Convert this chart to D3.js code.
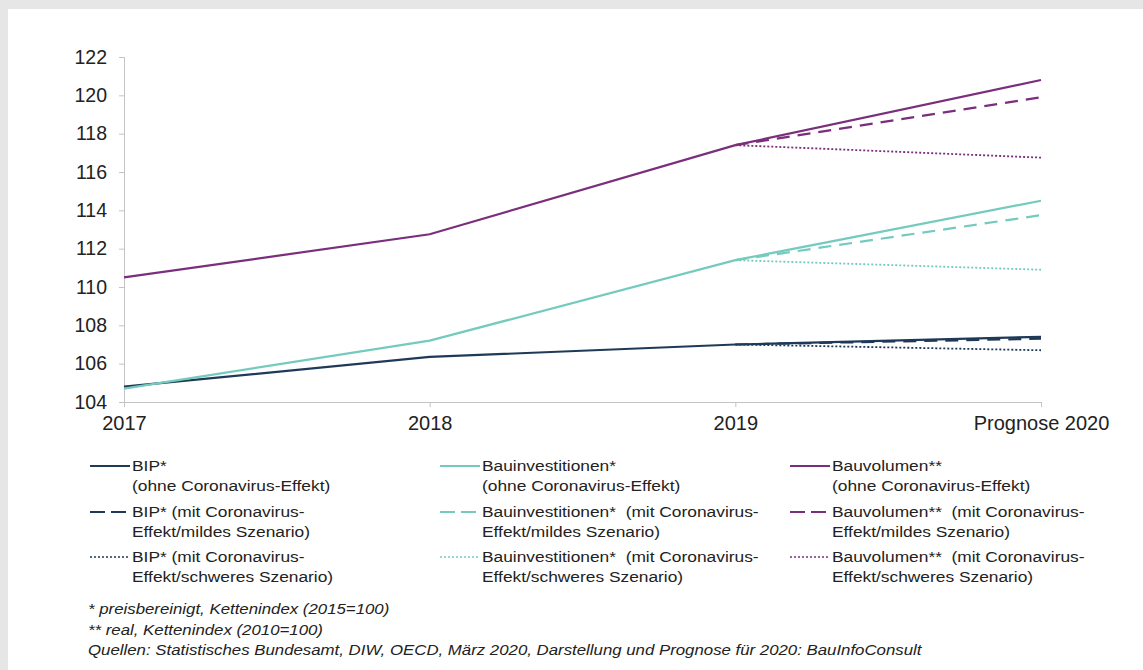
<!DOCTYPE html>
<html>
<head>
<meta charset="utf-8">
<script src="https://cdn.jsdelivr.net/npm/d3@7"></script>
<style>
  body { margin: 0; background: #e6e6e6; font-family: "Liberation Sans", Arial, sans-serif; }
  svg { display: block; }
  .legend text { white-space: pre; }
</style>
</head>
<body>
<div id="graph"></div>
<script>
// ------- data --------
var years = ['2017', '2018', '2019', 'Prognose 2020']
var yTicks = [104, 106, 108, 110, 112, 114, 116, 118, 120, 122]

var bip = [104.8, 106.35, 107.0, 107.4]
var bipMild = [null, null, 107.0, 107.3]
var bipSchwer = [null, null, 107.0, 106.7]

var bauinv = [104.7, 107.2, 111.4, 114.5]
var bauinvMild = [null, null, 111.4, 113.75]
var bauinvSchwer = [null, null, 111.4, 110.9]

var bauvol = [110.5, 112.75, 117.4, 120.8]
var bauvolMild = [null, null, 117.4, 119.9]
var bauvolSchwer = [null, null, 117.4, 116.75]

var legendLabels = [
    ['BIP*', '(ohne Coronavirus-Effekt)'],
    ['BIP* (mit Coronavirus-', 'Effekt/mildes Szenario)'],
    ['BIP* (mit Coronavirus-', 'Effekt/schweres Szenario)'],
    ['Bauinvestitionen*', '(ohne Coronavirus-Effekt)'],
    ['Bauinvestitionen*  (mit Coronavirus-', 'Effekt/mildes Szenario)'],
    ['Bauinvestitionen*  (mit Coronavirus-', 'Effekt/schweres Szenario)'],
    ['Bauvolumen**', '(ohne Coronavirus-Effekt)'],
    ['Bauvolumen**  (mit Coronavirus-', 'Effekt/mildes Szenario)'],
    ['Bauvolumen**  (mit Coronavirus-', 'Effekt/schweres Szenario)']
]

var footnotes = [
    '* preisbereinigt, Kettenindex (2015=100)',
    '** real, Kettenindex (2010=100)',
    'Quellen: Statistisches Bundesamt, DIW, OECD, März 2020, Darstellung und Prognose für 2020: BauInfoConsult'
]

var colors = {bip: '#1e3a58', inv: '#74cbbd', vol: '#7a2e7c'}
var dashes = {solid: null, mild: '13,8', schwer: '2,2'}

var series = [
    {values: bip, color: colors.bip, dash: 'solid'},
    {values: bipMild, color: colors.bip, dash: 'mild'},
    {values: bipSchwer, color: colors.bip, dash: 'schwer'},
    {values: bauinv, color: colors.inv, dash: 'solid'},
    {values: bauinvMild, color: colors.inv, dash: 'mild'},
    {values: bauinvSchwer, color: colors.inv, dash: 'schwer'},
    {values: bauvol, color: colors.vol, dash: 'solid'},
    {values: bauvolMild, color: colors.vol, dash: 'mild'},
    {values: bauvolSchwer, color: colors.vol, dash: 'schwer'}
]

// ------- svg --------
var width = 1143, height = 670

var svg = d3.select('#graph').append('svg')
    .attr('width', width)
    .attr('height', height)

// white panel
svg.append('rect')
    .attr('x', 8).attr('y', 9)
    .attr('width', width - 8).attr('height', height - 9)
    .style('fill', '#ffffff')

var x = d3.scalePoint()
    .domain(years)
    .range([124, 1041])

var y = d3.scaleLinear()
    .domain([104, 122])
    .range([402, 57])

var axisColor = '#c4c4c4'

// y axis
var yAxis = svg.append('g')
    .attr('transform', 'translate(124,0)')
    .call(d3.axisLeft(y).tickValues(yTicks).tickSize(5).tickPadding(12))
yAxis.select('.domain').style('stroke', axisColor)
yAxis.selectAll('.tick line').style('stroke', axisColor)
yAxis.selectAll('text')
    .style('font-family', '"Liberation Sans", Arial, sans-serif')
    .style('font-size', '19.5px')
    .style('fill', '#222')

// x axis
var xAxis = svg.append('g')
    .attr('transform', 'translate(0,402)')
    .call(d3.axisBottom(x).tickSize(5).tickSizeOuter(0).tickPadding(9))
xAxis.select('.domain').style('stroke', axisColor)
xAxis.selectAll('.tick line').style('stroke', axisColor)
xAxis.selectAll('text')
    .style('font-family', '"Liberation Sans", Arial, sans-serif')
    .style('font-size', '20px')
    .style('fill', '#222')

// ------- lines --------
var line = d3.line()
    .defined(function(d) { return d != null })
    .x(function(d, i) { return x(years[i]) })
    .y(function(d) { return y(d) })

// draw scenario lines first, solid on top
var order = [2, 5, 8, 1, 4, 7, 0, 3, 6]
order.forEach(function(k) {
    var s = series[k]
    svg.append('path')
        .datum(s.values)
        .attr('d', line)
        .style('fill', 'none')
        .style('stroke', s.color)
        .style('stroke-width', s.dash == 'schwer' ? 1.8 : 2.2)
        .style('stroke-dasharray', dashes[s.dash])
})

// ------- legend --------
var colX = [90, 440, 790]
var rowY = [466, 512, 557]

series.forEach(function(s, k) {
    var cx = colX[Math.floor(k / 3)], cy = rowY[k % 3]
    var g = svg.append('g')
        .attr('class', 'legend')
        .attr('transform', 'translate(' + cx + ',' + cy + ')')
    g.append('line')
        .attr('x1', 0).attr('x2', 40)
        .attr('y1', 0).attr('y2', 0)
        .style('stroke', s.color)
        .style('stroke-width', s.dash == 'schwer' ? 1.5 : 2.2)
        .style('stroke-dasharray', s.dash == 'mild' ? '15,6' : dashes[s.dash])
    // text in the source is a bit wider than tall
    var t = g.append('text')
        .attr('transform', 'translate(42,5) scale(1.12,1)')
        .style('font-size', '15.5px')
        .style('fill', '#222')
    t.append('tspan').attr('x', 0).text(legendLabels[k][0])
    t.append('tspan').attr('x', 0).attr('dy', 20.5).text(legendLabels[k][1])
})

// ------- footnotes --------
svg.selectAll('.note')
    .data(footnotes)
    .enter()
    .append('text')
    .attr('class', 'note')
    .attr('transform', function(d, i) { return 'translate(88,' + (614 + i * 20.5) + ') scale(1.16,1)' })
    .style('font-size', '14.5px')
    .style('font-style', 'italic')
    .style('fill', '#222')
    .text(function(d) { return d })
</script>
</body>
</html>
